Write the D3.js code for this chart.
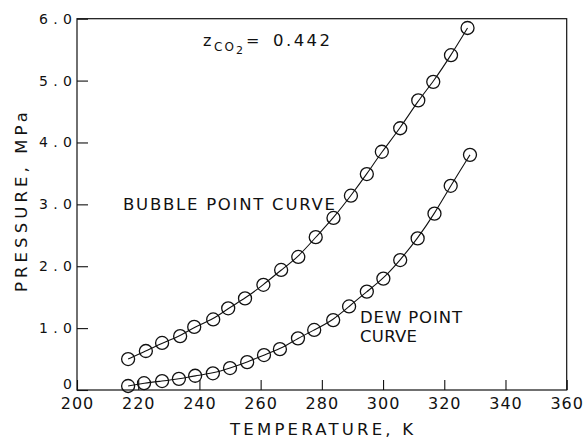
<!DOCTYPE html>
<html>
<head>
<meta charset="utf-8">
<script src="https://cdn.jsdelivr.net/npm/d3@7"></script>
<style>
  body { margin: 0; background: #fff; }
  svg text { font-family: "DejaVu Sans", sans-serif; fill: #111; }
</style>
</head>
<body>
<svg id="chart" width="586" height="439"></svg>
<script>
// temperatures (K) and pressures (MPa)
var bubbleT = [216.7, 222.5, 227.8, 233.7, 238.3, 244.5, 249.4, 254.9, 260.9, 266.7, 272.3,
               278.0, 283.8, 289.5, 294.7, 299.6, 305.6, 311.5, 316.4, 322.2, 327.6];
var bubbleP = [0.50, 0.63, 0.76, 0.87, 1.02, 1.14, 1.32, 1.48, 1.70, 1.94, 2.15,
               2.47, 2.78, 3.14, 3.49, 3.85, 4.23, 4.68, 4.98, 5.41, 5.85];
var dewT = [216.7, 221.9, 227.8, 233.3, 238.6, 244.4, 250.0, 255.6, 261.1, 266.3, 272.2,
            277.5, 283.7, 288.9, 294.7, 300.1, 305.6, 311.3, 316.8, 322.1, 328.4];
var dewP = [0.065, 0.11, 0.145, 0.18, 0.23, 0.27, 0.355, 0.45, 0.565, 0.66, 0.835,
            0.97, 1.13, 1.35, 1.59, 1.80, 2.10, 2.45, 2.85, 3.30, 3.80];

var xTicks = [200, 220, 240, 260, 280, 300, 320, 340, 360];
var yTicks = [0, 1, 2, 3, 4, 5, 6];
var yTickLabels = ["0", "1.0", "2.0", "3.0", "4.0", "5.0", "6.0"];

var svg = d3.select("#chart"),
    margin = {top: 18.7, right: 19.3, bottom: 49, left: 77},
    width = +svg.attr("width") - margin.left - margin.right,
    height = +svg.attr("height") - margin.top - margin.bottom,
    g = svg.append("g").attr("transform", "translate(" + margin.left + "," + margin.top + ")");

var x = d3.scaleLinear().domain([200, 360]).range([0, width]),
    y = d3.scaleLinear().domain([0, 6]).range([height, 0]);

// axes, ticks pointing into the plot
var xAxis = g.append("g")
    .attr("transform", "translate(0," + height + ")")
    .call(d3.axisBottom(x).tickValues(xTicks).tickFormat(d3.format("d"))
      .tickSizeInner(-10).tickSizeOuter(0).tickPadding(8));
xAxis.select(".domain").remove();
xAxis.selectAll(".tick line").attr("stroke", "#111").attr("stroke-width", 1.1);
xAxis.selectAll(".tick text")
    .attr("font-size", 16)
    .attr("fill", "#111")
    .style("letter-spacing", "1px");

var yAxis = g.append("g")
    .call(d3.axisLeft(y).tickValues(yTicks).tickFormat(function(d, i) { return yTickLabels[i]; })
      .tickSizeInner(-11).tickSizeOuter(0).tickPadding(5));
yAxis.select(".domain").remove();
yAxis.selectAll(".tick line").attr("stroke", "#111").attr("stroke-width", 1.1);
yAxis.selectAll(".tick text")
    .attr("font-size", 14)
    .attr("fill", "#111")
    .each(function(d) {
      var t = d3.select(this);
      if (t.text().length > 1) t.attr("textLength", 33).attr("lengthAdjust", "spacing");
      if (d === 0) t.attr("dy", "-0.12em");   // keep the 0 clear of the 200
    });

// frame
g.append("rect")
    .attr("width", width)
    .attr("height", height)
    .attr("fill", "none")
    .attr("stroke", "#111")
    .attr("stroke-width", 1.2);

// curves + circles
var series = [
  { id: "bubble", values: bubbleT.map(function(t, i) { return { t: t, p: bubbleP[i] }; }) },
  { id: "dew", values: dewT.map(function(t, i) { return { t: t, p: dewP[i] }; }) }
];

var line = d3.line()
    .curve(d3.curveBasis)
    .x(function(d) { return x(d.t); })
    .y(function(d) { return y(d.p); });

var s = g.selectAll(".series")
  .data(series)
  .enter().append("g")
    .attr("class", "series");

s.append("path")
    .attr("d", function(d) { return line(d.values); })
    .attr("fill", "none")
    .attr("stroke", "#111")
    .attr("stroke-width", 1.1);

s.selectAll("circle")
  .data(function(d) { return d.values; })
  .enter().append("circle")
    .attr("cx", function(d) { return x(d.t); })
    .attr("cy", function(d) { return y(d.p); })
    .attr("r", 6.5)
    .attr("fill", "none")
    .attr("stroke", "#111")
    .attr("stroke-width", 1.3);

// labels
function label(txt, px, py, size, len) {
  var t = svg.append("text")
      .attr("x", px)
      .attr("y", py)
      .attr("font-size", size)
      .text(txt);
  if (len) t.attr("textLength", len).attr("lengthAdjust", "spacing");
  return t;
}

label("BUBBLE POINT CURVE", 123, 209.5, 16.5, 212);
label("DEW POINT", 360, 323, 16.5, 102);
label("CURVE", 360, 342, 16.5, 57);

// composition annotation
label("z", 203, 46, 16);
label("CO", 214, 50.5, 12, 20);
label("2", 236, 53.5, 11);
label("=", 246, 46, 16);
label("0.442", 273, 46, 16.5, 57);

// axis titles
label("TEMPERATURE, K", 230, 434.5, 16.5, 183);

svg.append("text")
    .attr("transform", "translate(27," + 292 + ") rotate(-90)")
    .attr("font-size", 16.5)
    .attr("textLength", 180)
    .attr("lengthAdjust", "spacing")
    .text("PRESSURE, MPa");
</script>
</body>
</html>
